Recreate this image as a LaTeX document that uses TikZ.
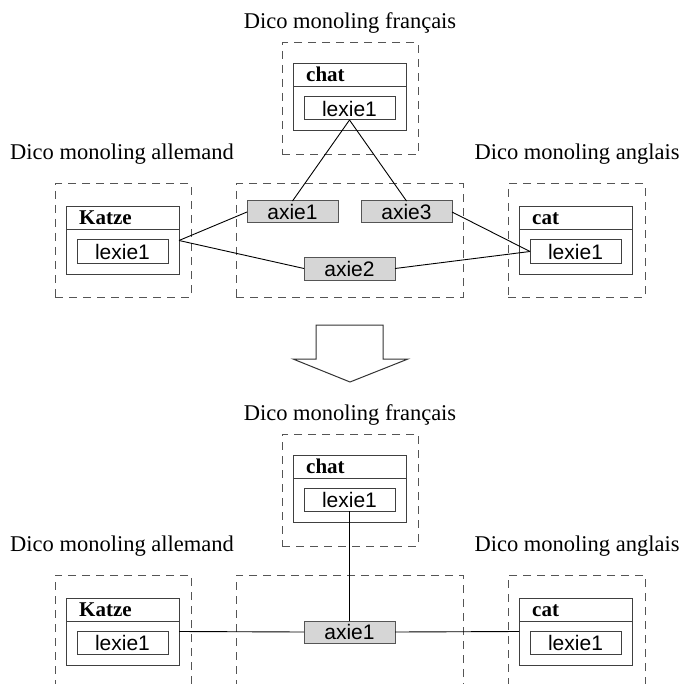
\documentclass[tikz,border=0pt]{standalone}
\usepackage{fontspec}
\setmainfont{Liberation Serif}
\newfontfamily\lexsans{Liberation Sans}
\newcommand\titlefnt{\fontsize{22.5}{27}\selectfont}
\newcommand\headfnt{\fontsize{21}{25}\selectfont\bfseries}
\newcommand\lexfnt{\lexsans\fontsize{21}{25}\selectfont}
\definecolor{boxgray}{HTML}{D6D6D6}
\definecolor{edgegray}{HTML}{555555}
\tikzset{
  dashbox/.style={draw=edgegray, line width=1pt, dash pattern=on 8pt off 6pt, inner sep=0pt, outer sep=0pt, anchor=north west},
  entrybox/.style={draw=black!75, line width=1pt, inner sep=0pt, outer sep=0pt, minimum width=113pt, minimum height=67pt, anchor=north west},
  entryline/.style={draw=black!75, line width=1pt},
  headtext/.style={font=\headfnt, inner sep=0pt, anchor=base west},
  lexbox/.style={draw=black!75, fill=white, line width=1pt, font=\lexfnt, inner sep=0pt, outer sep=0pt, minimum width=91pt, minimum height=23pt},
  axbox/.style={draw=edgegray, fill=boxgray, line width=1pt, font=\lexfnt, inner sep=0pt, outer sep=0pt, minimum width=91pt, minimum height=22pt},
  titletext/.style={font=\titlefnt, inner sep=0pt, anchor=base},
  link/.style={draw=black, line width=0.9pt},
  bigarrow/.style={draw=black!80, fill=white, line width=1pt, line join=miter}
}
\newcommand\entryblk[4]{%
  \node[entrybox] (#1) at (#2,#3) {};
  \draw[entryline] (#2,#3+23) -- (#2+113,#3+23);
  \node[headtext] (#1h) at (#2+13,#3+18) {#4};
  \node[lexbox, anchor=north west] (#1l) at (#2+11,#3+33) {lexie1};
}
\begin{document}
\begin{tikzpicture}[x=1pt,y=-1pt]
\useasboundingbox (0,0) rectangle (681,684);
\clip (0,0) rectangle (681,684);
% ---------- upper diagram ----------
\node[titletext] (tF) at (350,29) {Dico monoling français};
\node[titletext] (tD) at (122,160) {Dico monoling allemand};
\node[titletext] (tE) at (577,160) {Dico monoling anglais};
\node[dashbox, minimum width=136pt, minimum height=112pt] (dF) at (282,43) {};
\node[dashbox, minimum width=136pt, minimum height=113pt] (dD) at (55,184) {};
\node[dashbox, minimum width=227pt, minimum height=113pt] (dM) at (236,184) {};
\node[dashbox, minimum width=137pt, minimum height=113pt] (dE) at (508,184) {};
\entryblk{chatF}{293}{64}{chat}
\entryblk{katzeD}{66}{207}{Katze}
\entryblk{catE}{519}{207}{cat}
\node[axbox] (ax1) at (292.5,212) {axie1};
\node[axbox] (ax3) at (406.5,212) {axie3};
\node[axbox, minimum height=23pt] (ax2) at (349.5,268.5) {axie2};
\draw[link] (chatFl.south) -- (ax1.north);
\draw[link] (chatFl.south) -- (ax3.north);
\draw[link] (katzeD.east) -- (ax1.west);
\draw[link] (katzeD.east) -- (ax2.west);
\draw[link] (ax3.east) -- (catEl.west);
\draw[link] (ax2.east) -- (catEl.west);
% ---------- transformation arrow ----------
\draw[bigarrow] (316,325) -- (383,325) -- (383,359) -- (408,359) -- (350,382) -- (293,359) -- (316,359) -- cycle;
% ---------- lower diagram ----------
\node[titletext] (bF) at (350,420) {Dico monoling français};
\node[titletext] (bD) at (122,551) {Dico monoling allemand};
\node[titletext] (bE) at (577,551) {Dico monoling anglais};
\node[dashbox, minimum width=136pt, minimum height=112pt] (eF) at (282,434) {};
\node[dashbox, minimum width=136pt, minimum height=113pt] (eD) at (55,575) {};
\node[dashbox, minimum width=227pt, minimum height=113pt] (eM) at (236,575) {};
\node[dashbox, minimum width=137pt, minimum height=113pt] (eE) at (508,575) {};
\entryblk{chatB}{293}{455}{chat}
\entryblk{katzeB}{66}{598}{Katze}
\entryblk{catB}{519}{598}{cat}
\node[axbox] (bx1) at (349.5,632) {axie1};
\draw[link] (chatBl.south) -- (bx1.north);
\draw[link] (katzeB.east) -- (bx1.west);
\draw[link] (bx1.east) -- (catB.west);
\end{tikzpicture}
\end{document}
